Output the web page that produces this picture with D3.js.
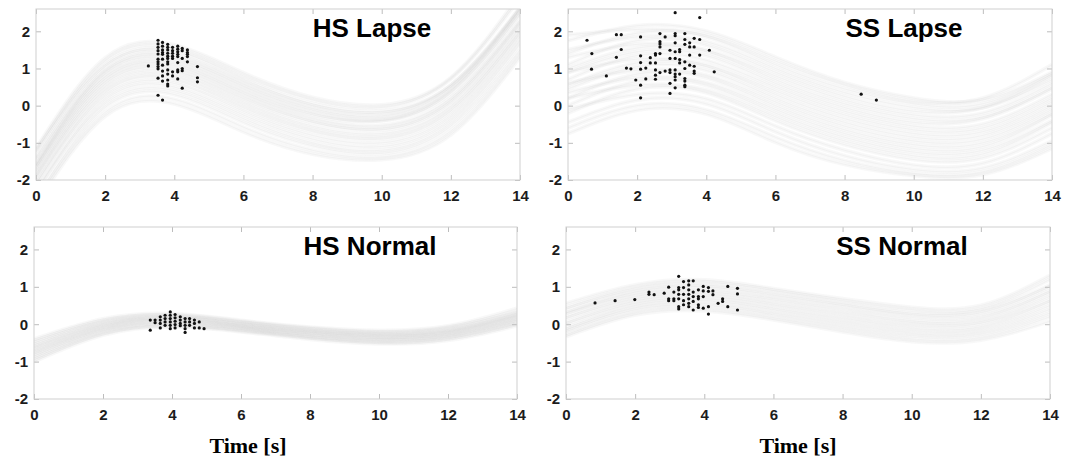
<!DOCTYPE html>
<html>
<head>
<meta charset="utf-8">
<script src="https://cdn.jsdelivr.net/npm/d3@7"></script>
<style>
  body { margin: 0; background: #fff; }
  .tick text { font-family: "Liberation Sans", Arial, Helvetica, sans-serif; font-weight: bold; font-size: 15px; fill: #1c1c1c; }
  .tick line { stroke: #bdbdbd; }
</style>
</head>
<body>
<div id="chart"></div>
<script>
const knots = [0, 2, 4, 6, 8, 10, 12, 14];
const xTicks = [0, 2, 4, 6, 8, 10, 12, 14];
const yTicks = [-2, -1, 0, 1, 2];

// HS Lapse trajectories (value at each knot)
const hsLapseCurves = [
  [-1.15, 1.28, 1.63, 0.88, 0.22, 0.02, 0.75, 3.0],
  [-1.25, 1.2, 1.55, 0.8, 0.15, -0.05, 0.72, 2.9],
  [-1.2, 1.1, 1.48, 0.72, 0.05, -0.15, 0.55, 2.6],
  [-1.4, 1.05, 1.4, 0.65, 0.0, -0.2, 0.55, 2.65],
  [-1.6, 0.95, 1.33, 0.58, -0.07, -0.27, 0.5, 2.6],
  [-1.45, 0.92, 1.27, 0.52, -0.13, -0.33, 0.42, 2.5],
  [-1.6, 0.85, 1.2, 0.45, -0.2, -0.4, 0.33, 2.45],
  [-1.62, 0.78, 1.13, 0.38, -0.25, -0.4, 0.4, 2.6],
  [-1.7, 0.72, 1.07, 0.32, -0.33, -0.53, 0.22, 2.3],
  [-1.75, 0.65, 1.0, 0.25, -0.4, -0.6, 0.15, 2.25],
  [-1.85, 0.58, 0.93, 0.18, -0.45, -0.65, 0.1, 2.2],
  [-1.9, 0.5, 0.85, 0.1, -0.55, -0.75, 0.0, 2.1],
  [-1.95, 0.42, 0.77, 0.02, -0.63, -0.83, -0.08, 2.0],
  [-2.1, 0.34, 0.69, -0.06, -0.7, -0.9, -0.15, 1.95],
  [-2.1, 0.25, 0.6, -0.15, -0.8, -1.0, -0.25, 1.85],
  [-2.3, 0.15, 0.5, -0.25, -0.9, -1.1, -0.35, 1.75],
  [-2.3, 0.05, 0.4, -0.35, -1.0, -1.2, -0.45, 1.65],
  [-2.5, -0.05, 0.3, -0.45, -1.08, -1.28, -0.55, 1.5],
  [-2.55, -0.18, 0.17, -0.58, -1.2, -1.38, -0.68, 1.4],
  [-2.65, -0.28, 0.05, -0.7, -1.3, -1.45, -0.78, 1.3]
];

// SS Lapse trajectories
const ssLapseCurves = [
  [1.75, 2.15, 2.0, 1.3, 0.62, 0.2, 0.15, 0.9],
  [1.9, 2.05, 1.9, 1.2, 0.55, 0.12, 0.2, 1.1],
  [1.4, 1.95, 1.85, 1.1, 0.45, 0.05, 0.05, 0.85],
  [1.5, 1.85, 1.72, 1.0, 0.35, -0.05, -0.05, 0.7],
  [1.1, 1.75, 1.63, 0.9, 0.25, -0.15, -0.05, 0.8],
  [1.3, 1.65, 1.5, 0.8, 0.15, -0.25, -0.2, 0.6],
  [1.0, 1.55, 1.45, 0.7, 0.05, -0.35, -0.3, 0.5],
  [0.9, 1.45, 1.35, 0.6, -0.05, -0.45, -0.35, 0.45],
  [0.7, 1.35, 1.22, 0.5, -0.15, -0.55, -0.5, 0.3],
  [0.9, 1.25, 1.1, 0.4, -0.25, -0.65, -0.6, 0.2],
  [0.55, 1.15, 1.05, 0.3, -0.35, -0.75, -0.7, 0.1],
  [0.45, 1.05, 0.95, 0.2, -0.45, -0.85, -0.8, 0.0],
  [0.6, 0.95, 0.82, 0.1, -0.55, -0.95, -0.9, -0.1],
  [0.2, 0.85, 0.75, 0.0, -0.65, -1.05, -1.0, -0.2],
  [0.35, 0.75, 0.62, -0.1, -0.75, -1.15, -1.1, -0.25],
  [0.0, 0.65, 0.55, -0.2, -0.85, -1.25, -1.2, -0.4],
  [0.2, 0.55, 0.42, -0.3, -0.95, -1.35, -1.3, -0.45],
  [-0.2, 0.45, 0.35, -0.4, -1.05, -1.45, -1.4, -0.6],
  [-0.1, 0.3, 0.18, -0.55, -1.2, -1.6, -1.55, -0.75],
  [-0.45, 0.15, 0.05, -0.7, -1.35, -1.72, -1.68, -0.95],
  [-0.6, 0.0, -0.12, -0.85, -1.48, -1.82, -1.78, -1.05],
  [-0.75, -0.12, -0.22, -0.98, -1.58, -1.88, -1.85, -1.15]
];

// HS Normal trajectories
const hsNormalCurves = [
  [-0.4, 0.14, 0.28, 0.1, -0.08, -0.17, -0.05, 0.42],
  [-0.45, 0.1, 0.25, 0.08, -0.1, -0.2, -0.08, 0.35],
  [-0.5, 0.07, 0.22, 0.05, -0.13, -0.23, -0.12, 0.3],
  [-0.55, 0.03, 0.2, 0.03, -0.16, -0.26, -0.15, 0.28],
  [-0.6, 0.0, 0.17, 0.0, -0.18, -0.28, -0.18, 0.24],
  [-0.63, -0.03, 0.15, -0.02, -0.2, -0.3, -0.2, 0.22],
  [-0.68, -0.06, 0.13, -0.04, -0.22, -0.33, -0.22, 0.2],
  [-0.72, -0.09, 0.1, -0.06, -0.25, -0.35, -0.25, 0.16],
  [-0.76, -0.12, 0.07, -0.08, -0.27, -0.38, -0.28, 0.13],
  [-0.8, -0.15, 0.04, -0.1, -0.3, -0.4, -0.3, 0.1],
  [-0.85, -0.18, 0.02, -0.13, -0.32, -0.43, -0.33, 0.07],
  [-0.9, -0.22, -0.02, -0.15, -0.35, -0.46, -0.36, 0.03],
  [-0.95, -0.25, -0.05, -0.18, -0.37, -0.49, -0.39, 0.0],
  [-1.0, -0.29, -0.07, -0.2, -0.4, -0.52, -0.43, -0.04]
];

// SS Normal trajectories
const ssNormalCurves = [
  [0.55, 1.05, 1.18, 0.95, 0.68, 0.45, 0.5, 1.3],
  [0.45, 0.98, 1.12, 0.9, 0.62, 0.38, 0.42, 1.2],
  [0.4, 0.92, 1.05, 0.83, 0.55, 0.3, 0.36, 1.05],
  [0.3, 0.86, 1.0, 0.77, 0.5, 0.25, 0.3, 1.0],
  [0.3, 0.8, 0.93, 0.7, 0.43, 0.18, 0.22, 0.9],
  [0.2, 0.74, 0.87, 0.64, 0.36, 0.1, 0.15, 0.85],
  [0.15, 0.68, 0.81, 0.57, 0.29, 0.04, 0.08, 0.75],
  [0.05, 0.62, 0.75, 0.51, 0.22, -0.03, 0.02, 0.65],
  [0.0, 0.56, 0.69, 0.44, 0.15, -0.1, -0.06, 0.6],
  [-0.1, 0.5, 0.63, 0.38, 0.08, -0.17, -0.13, 0.5],
  [-0.15, 0.44, 0.56, 0.31, 0.01, -0.24, -0.2, 0.4],
  [-0.2, 0.38, 0.5, 0.25, -0.06, -0.31, -0.27, 0.3],
  [-0.28, 0.31, 0.43, 0.18, -0.13, -0.39, -0.35, 0.2],
  [-0.33, 0.25, 0.36, 0.12, -0.2, -0.46, -0.42, 0.08]
];

// observed points [time, value]
const hsLapseDots = [
  [3.25, 1.07],
  [3.53, 1.76], [3.53, 1.66], [3.53, 1.57], [3.53, 1.48], [3.53, 1.39], [3.53, 1.25], [3.53, 1.18],
  [3.53, 1.12], [3.53, 1.05], [3.53, 0.99], [3.53, 0.74], [3.53, 0.28],
  [3.66, 1.70], [3.66, 1.60], [3.66, 1.50], [3.66, 1.43], [3.66, 1.38], [3.66, 1.25], [3.66, 1.09],
  [3.66, 0.93], [3.66, 0.80], [3.66, 0.66], [3.66, 0.15],
  [3.81, 1.65], [3.81, 1.57], [3.81, 1.50], [3.81, 1.41], [3.81, 1.33], [3.81, 1.27], [3.81, 1.18],
  [3.81, 1.12], [3.81, 0.96], [3.81, 0.85], [3.81, 0.69], [3.81, 0.58], [3.81, 0.53],
  [3.95, 1.57], [3.95, 1.48], [3.95, 1.41], [3.95, 1.33], [3.95, 1.27], [3.95, 0.91], [3.95, 0.80],
  [4.10, 1.60], [4.10, 1.52], [4.10, 1.45], [4.10, 1.38], [4.10, 1.32], [4.10, 1.16], [4.10, 0.96],
  [4.10, 0.91], [4.10, 0.72],
  [4.23, 1.54], [4.23, 1.48], [4.23, 1.27], [4.23, 1.00], [4.23, 0.94], [4.23, 0.47],
  [4.38, 1.50], [4.38, 1.43], [4.38, 1.38], [4.38, 1.32], [4.38, 1.18],
  [4.67, 1.05], [4.67, 0.75], [4.67, 0.64]
];

const ssLapseDots = [
  [0.55, 1.76], [0.69, 1.40], [0.68, 0.98], [1.11, 0.80], [1.40, 1.30], [1.40, 1.91], [1.54, 1.91],
  [1.54, 1.51], [1.69, 1.01], [1.82, 0.99], [1.96, 0.69],
  [2.10, 1.85], [2.10, 1.34], [2.10, 1.16], [2.10, 0.98], [2.10, 0.55], [2.10, 0.21],
  [2.25, 1.01], [2.25, 0.72], [2.38, 1.29], [2.38, 1.15],
  [2.53, 1.40], [2.53, 1.36], [2.53, 1.15], [2.53, 0.96], [2.53, 0.82], [2.53, 0.71],
  [2.66, 1.94], [2.66, 1.72], [2.66, 1.66], [2.66, 1.58], [2.66, 1.40], [2.66, 0.89],
  [2.81, 1.85], [2.81, 0.93],
  [2.95, 1.49], [2.95, 1.27], [2.95, 0.96], [2.95, 0.89], [2.95, 0.60], [2.95, 0.33],
  [3.10, 2.50], [3.10, 1.94], [3.10, 1.88], [3.10, 1.69], [3.10, 1.45], [3.10, 1.27], [3.10, 0.96],
  [3.10, 0.85], [3.10, 0.78], [3.10, 0.69], [3.10, 0.48],
  [3.23, 1.51], [3.23, 1.45], [3.23, 1.24], [3.23, 1.15], [3.23, 0.85],
  [3.38, 1.94], [3.38, 1.78], [3.38, 1.65], [3.38, 1.18], [3.38, 1.00], [3.38, 0.73], [3.38, 0.66],
  [3.38, 0.55], [3.38, 0.51],
  [3.52, 1.69], [3.52, 1.58], [3.52, 1.36], [3.52, 1.09],
  [3.65, 1.81], [3.65, 1.58], [3.65, 1.06], [3.65, 0.93], [3.65, 0.87],
  [3.81, 2.37], [3.81, 1.78], [3.81, 1.36],
  [4.09, 1.49], [4.23, 0.91],
  [8.48, 0.31], [8.92, 0.15]
];

const hsNormalDots = [
  [3.37, 0.11], [3.37, -0.16],
  [3.51, 0.11], [3.51, 0.04],
  [3.66, 0.20], [3.66, 0.11], [3.66, 0.02], [3.66, -0.10],
  [3.80, 0.24], [3.80, 0.15], [3.80, 0.06], [3.80, -0.03],
  [3.95, 0.33], [3.95, 0.24], [3.95, 0.15], [3.95, 0.06], [3.95, -0.03], [3.95, -0.12],
  [4.09, 0.26], [4.09, 0.17], [4.09, 0.08], [4.09, -0.01], [4.09, -0.10],
  [4.24, 0.20], [4.24, 0.11], [4.24, 0.02], [4.24, -0.04],
  [4.38, 0.15], [4.38, 0.06], [4.38, -0.03], [4.38, -0.12], [4.38, -0.22],
  [4.51, 0.15], [4.51, 0.06], [4.51, -0.03],
  [4.65, 0.11], [4.65, 0.02], [4.65, -0.10],
  [4.79, 0.06], [4.79, -0.10],
  [4.93, -0.12]
];

const ssNormalDots = [
  [0.84, 0.57], [1.42, 0.63], [1.99, 0.66], [2.40, 0.86], [2.40, 0.80], [2.55, 0.79], [2.84, 0.83],
  [2.97, 0.99], [2.97, 0.68], [2.97, 0.63], [3.12, 0.86], [3.12, 0.68], [3.12, 0.63],
  [3.26, 1.28], [3.26, 0.98], [3.26, 0.92], [3.26, 0.80], [3.26, 0.68], [3.26, 0.47], [3.26, 0.41],
  [3.40, 1.14], [3.40, 0.98], [3.40, 0.80], [3.40, 0.63], [3.40, 0.52],
  [3.55, 1.16], [3.55, 1.05], [3.55, 0.92], [3.55, 0.80], [3.55, 0.68], [3.55, 0.56], [3.55, 0.47],
  [3.68, 1.16], [3.68, 0.86], [3.68, 0.74], [3.68, 0.61], [3.68, 0.38],
  [3.83, 0.92], [3.83, 0.74], [3.83, 0.68], [3.83, 0.52], [3.83, 0.45],
  [3.97, 1.01], [3.97, 0.89], [3.97, 0.74], [3.97, 0.43],
  [4.12, 0.98], [4.12, 0.88], [4.12, 0.47], [4.12, 0.27],
  [4.25, 0.89], [4.25, 0.79], [4.40, 0.56], [4.53, 0.68], [4.53, 0.61],
  [4.68, 1.01], [4.68, 0.47], [4.96, 0.96], [4.96, 0.81], [4.96, 0.38]
];

const panels = [
  { title: "HS Lapse", curves: hsLapseCurves, dots: hsLapseDots, left: 36, right: 520, top: 9, bottom: 180 },
  { title: "SS Lapse", curves: ssLapseCurves, dots: ssLapseDots, left: 568, right: 1052, top: 9, bottom: 180 },
  { title: "HS Normal", curves: hsNormalCurves, dots: hsNormalDots, left: 34, right: 517, top: 227, bottom: 399 },
  { title: "SS Normal", curves: ssNormalCurves, dots: ssNormalDots, left: 566, right: 1050, top: 227, bottom: 399 }
];

const width = 1073, height = 460;
const tickFmt = d => String(d); // plain hyphen, no decimals, like MATLAB

const svg = d3.select("#chart")
  .append("svg")
  .attr("width", width)
  .attr("height", height);

panels.forEach((p, i) => {
  const w = p.right - p.left;
  const h = p.bottom - p.top;

  const x = d3.scaleLinear().domain([0, 14]).range([0, w]);
  const y = d3.scaleLinear().domain([-2, 2.6]).range([h, 0]);

  const g = svg.append("g").attr("transform", `translate(${p.left},${p.top})`);

  g.append("clipPath")
    .attr("id", "clip" + i)
    .append("rect")
    .attr("width", w)
    .attr("height", h);

  const line = d3.line()
    .x((d, j) => x(knots[j]))
    .y(d => y(d))
    .curve(d3.curveNatural);

  // gray trajectories, wide and faint so they merge into a soft band
  const band = g.append("g").attr("clip-path", `url(#clip${i})`);
  band.selectAll("path.wide")
    .data(p.curves)
    .join("path")
    .attr("class", "wide")
    .attr("d", line)
    .attr("fill", "none")
    .attr("stroke", "#d2d2d2")
    .attr("stroke-opacity", 0.16)
    .attr("stroke-width", 4);
  band.selectAll("path.thin")
    .data(p.curves)
    .join("path")
    .attr("class", "thin")
    .attr("d", line)
    .attr("fill", "none")
    .attr("stroke", "#d0d0d0")
    .attr("stroke-opacity", 0.18)
    .attr("stroke-width", 0.9);

  // axes, MATLAB style with ticks pointing inward
  g.append("g")
    .attr("transform", `translate(0,${h})`)
    .call(d3.axisBottom(x).tickValues(xTicks).tickFormat(tickFmt).tickSizeInner(-5).tickSizeOuter(0).tickPadding(10))
    .call(a => a.select(".domain").remove());
  g.append("g")
    .call(d3.axisTop(x).tickValues(xTicks).tickSizeInner(-5).tickSizeOuter(0).tickFormat(""))
    .call(a => a.select(".domain").remove());
  g.append("g")
    .call(d3.axisLeft(y).tickValues(yTicks).tickFormat(tickFmt).tickSizeInner(-5).tickSizeOuter(0).tickPadding(6))
    .call(a => a.select(".domain").remove());
  g.append("g")
    .attr("transform", `translate(${w},0)`)
    .call(d3.axisRight(y).tickValues(yTicks).tickSizeInner(-5).tickSizeOuter(0).tickFormat(""))
    .call(a => a.select(".domain").remove());

  // frame
  g.append("rect")
    .attr("width", w)
    .attr("height", h)
    .attr("fill", "none")
    .attr("stroke", "#cfcfcf")
    .attr("stroke-width", 1);

  // black observations
  g.append("g")
    .selectAll("circle")
    .data(p.dots)
    .join("circle")
    .attr("cx", d => x(d[0]))
    .attr("cy", d => y(d[1]))
    .attr("r", 1.6)
    .attr("fill", "#111");

  // panel title
  g.append("text")
    .attr("x", 336)
    .attr("y", 27.5)
    .attr("text-anchor", "middle")
    .style("font-family", "'Liberation Sans', Arial, Helvetica, sans-serif")
    .style("font-weight", "bold")
    .style("font-size", "26px")
    .attr("fill", "#000")
    .text(p.title);

  // x-axis title only under the bottom row
  if (i >= 2) {
    g.append("text")
      .attr("x", i === 2 ? 214 : 232)
      .attr("y", h + 54)
      .attr("text-anchor", "middle")
      .style("font-family", "'Liberation Serif', 'Times New Roman', serif")
      .style("font-weight", "bold")
      .style("font-size", "22px")
      .attr("fill", "#000")
      .text("Time [s]");
  }
});
</script>
</body>
</html>
